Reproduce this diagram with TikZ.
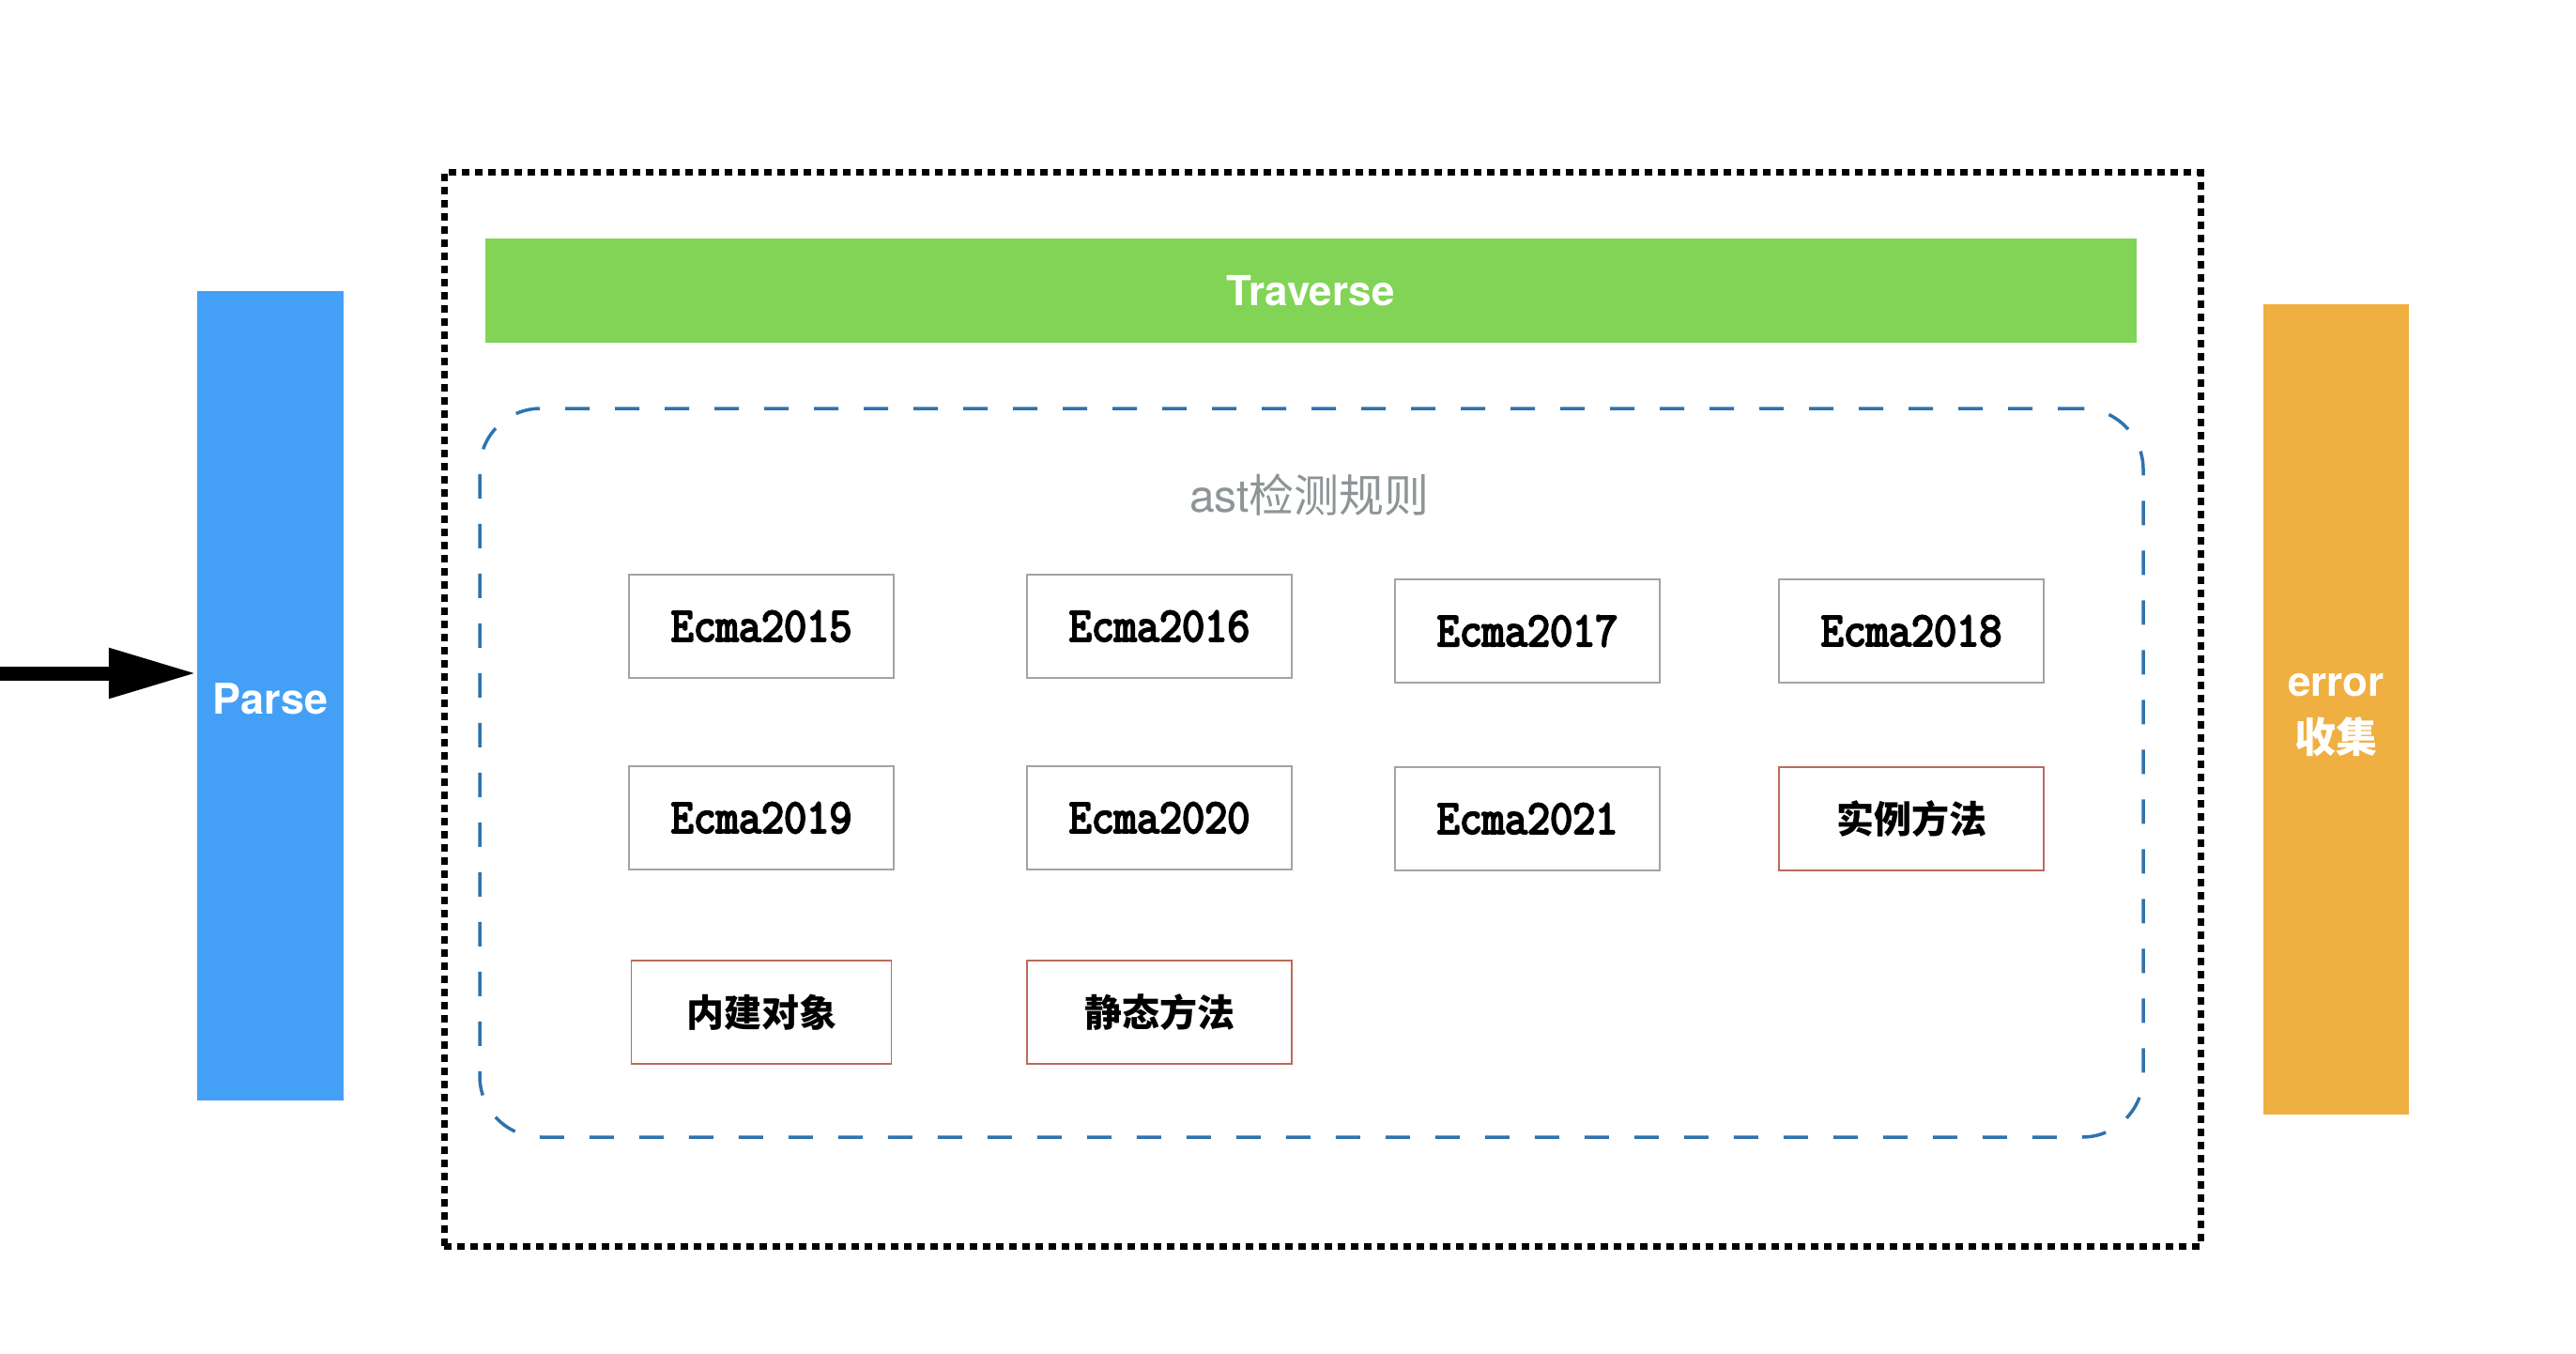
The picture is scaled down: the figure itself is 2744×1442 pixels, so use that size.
\documentclass[tikz,border=0pt]{standalone}
\usepackage{fontspec}
\newfontfamily\heros{TeX Gyre Heros}
\newfontfamily\cjk{Noto Sans CJK SC}
\newfontfamily\ecma{Latin Modern Mono}[FakeBold=4,FakeStretch=0.9]
\usetikzlibrary{arrows.meta}
\definecolor{parseblue}{HTML}{43A0F6}
\definecolor{travgreen}{HTML}{81D456}
\definecolor{errorange}{HTML}{F0AF41}
\definecolor{dashblue}{HTML}{2F73AE}
\definecolor{asttext}{HTML}{8E9596}
\definecolor{boxgray}{HTML}{A3A3A3}
\definecolor{boxred}{HTML}{BC6A5A}
\tikzset{
  bar/.style={inner sep=0pt, text=white, align=center},
  rulebox/.style={draw=boxgray, line width=1.5pt, minimum width=282pt, minimum height=110pt, inner sep=0pt,
    font=\ecma\fontsize{52}{56}\selectfont},
  cjkbox/.style={draw=boxred, line width=1.5pt, minimum width=282pt, minimum height=110pt, inner sep=0pt,
    font=\cjk\bfseries\fontsize{40}{48}\selectfont},
}
\begin{document}
\begin{tikzpicture}[x=1pt,y=-1pt]
\useasboundingbox (0,0) rectangle (2744,1442);
% outer dotted frame
\node[draw=black, line width=7pt, dash pattern=on 8pt off 6pt, minimum width=1871pt, minimum height=1143pt, inner sep=0pt] (frame) at (1408.5,755.5) {};
% Parse
\node[bar, fill=parseblue, minimum width=156pt, minimum height=862pt] (parse) at (288,741) {};
\node[text=white, inner sep=0pt, font=\heros\bfseries\fontsize{45}{54}\selectfont] (parsetxt) at (288,744) {Parse};
% error
\node[bar, fill=errorange, minimum width=155pt, minimum height=863pt] (err) at (2488.5,755.5) {};
\node[text=white, inner sep=0pt, align=center, font=\heros\bfseries\fontsize{44}{60}\selectfont] (errtxt) at (2488.5,762) {error\\{\cjk\bfseries 收集}};
% Traverse
\node[bar, fill=travgreen, minimum width=1759pt, minimum height=111pt, font=\heros\bfseries\fontsize{44}{52}\selectfont] (trav) at (1396,309.5) {Traverse};
% dashed rounded container
\node[draw=dashblue, line width=3.5pt, dash pattern=on 26pt off 27pt, rounded corners=65pt, minimum width=1772pt, minimum height=776pt, inner sep=0pt] (rules) at (1397,823) {};
\node[text=asttext, inner sep=0pt, font=\heros\fontsize{48}{56}\selectfont] (ast) at (1395,527) {ast{\cjk 检测规则}};
% rule boxes
\node[rulebox] (e15) at (811,667) {Ecma2015};
\node[rulebox] (e16) at (1235,667) {Ecma2016};
\node[rulebox] (e17) at (1627,672) {Ecma2017};
\node[rulebox] (e18) at (2036,672) {Ecma2018};
\node[rulebox] (e19) at (811,871) {Ecma2019};
\node[rulebox] (e20) at (1235,871) {Ecma2020};
\node[rulebox] (e21) at (1627,872) {Ecma2021};
\node[cjkbox] (sl) at (2036,872) {实例方法};
\node[cjkbox, minimum width=277pt] (nj) at (811,1078) {内建对象};
\node[cjkbox] (jt) at (1235,1078) {静态方法};
% input arrow
\coordinate (in) at (0,717);
\draw[line width=15pt, -{Triangle[length=94pt,width=50pt]}] (in) -- (in -| parse.west);
\end{tikzpicture}
\end{document}
